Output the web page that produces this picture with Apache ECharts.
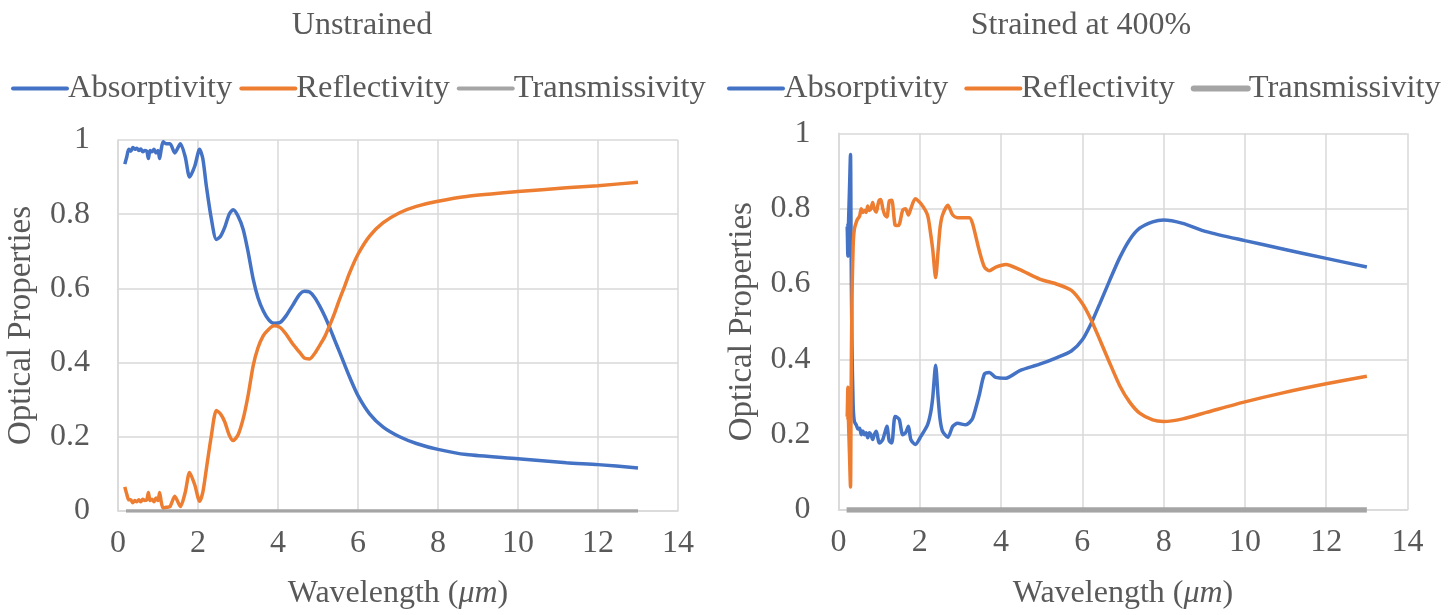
<!DOCTYPE html>
<html>
<head>
<meta charset="utf-8">
<script src="https://cdn.jsdelivr.net/npm/echarts@6/dist/echarts.min.js"></script>
<style>html,body{margin:0;padding:0;background:#fff;}#c{width:1452px;height:615px;}</style>
</head>
<body>
<div id="c"></div>
<script>
// ---------- Tick labels ----------
const xTicks = [0, 2, 4, 6, 8, 10, 12, 14];
const yTicks = [0, 0.2, 0.4, 0.6, 0.8, 1];
const seriesNames = ['Absorptivity', 'Reflectivity', 'Transmissivity'];
const chartTitles = ['Unstrained', 'Strained at 400%'];

// ---------- Unstrained ----------
const unWave = [0.17,0.22,0.27,0.32,0.37,0.42,0.47,0.52,0.57,0.62,0.67,0.72,0.76,0.8,0.85,0.9,0.95,1.0,1.04,1.08,1.13,1.2,1.3,1.42,1.56,1.68,1.79,1.92,2.04,2.12,2.21,2.33,2.46,2.56,2.67,2.78,2.88,3.0,3.13,3.25,3.38,3.5,3.63,3.77,3.9,4.05,4.2,4.37,4.54,4.66,4.79,4.92,5.04,5.17,5.29,5.42,5.54,5.67,5.79,6.0,6.29,6.63,7.04,7.46,8.0,8.71,10,11.21,12,13];
const unAbs = [0.935,0.955,0.975,0.97,0.98,0.975,0.978,0.972,0.976,0.968,0.972,0.97,0.95,0.972,0.968,0.975,0.965,0.972,0.95,0.975,0.995,0.99,0.99,0.965,0.99,0.955,0.90,0.93,0.975,0.95,0.875,0.79,0.732,0.74,0.765,0.80,0.812,0.795,0.759,0.70,0.625,0.575,0.54,0.515,0.506,0.508,0.526,0.555,0.584,0.592,0.59,0.575,0.553,0.525,0.495,0.46,0.428,0.393,0.361,0.311,0.262,0.226,0.2,0.182,0.166,0.152,0.141,0.13,0.125,0.116];
const unRef = [0.065,0.045,0.03,0.03,0.022,0.028,0.025,0.03,0.025,0.032,0.028,0.03,0.05,0.028,0.032,0.025,0.035,0.028,0.05,0.025,0.007,0.01,0.012,0.04,0.012,0.05,0.104,0.07,0.026,0.05,0.114,0.2,0.271,0.262,0.24,0.205,0.19,0.205,0.249,0.31,0.392,0.44,0.472,0.49,0.499,0.495,0.477,0.45,0.428,0.412,0.41,0.425,0.446,0.47,0.5,0.535,0.571,0.607,0.642,0.692,0.741,0.777,0.804,0.821,0.835,0.848,0.861,0.871,0.877,0.886];
const unTransWave = [0.2, 13];
const unTrans = [0, 0];

// ---------- Strained at 400% ----------
const stWave = [0.19,0.21,0.23,0.245,0.27,0.295,0.31,0.33,0.36,0.39,0.44,0.48,0.52,0.56,0.6,0.64,0.68,0.72,0.76,0.8,0.84,0.88,0.93,0.97,1.0,1.04,1.09,1.14,1.19,1.25,1.31,1.39,1.45,1.5,1.58,1.65,1.72,1.78,1.89,2.03,2.19,2.27,2.32,2.39,2.45,2.5,2.56,2.69,2.81,2.93,3.13,3.22,3.3,3.46,3.59,3.71,3.87,4.12,4.46,4.95,5.36,5.73,6.0,6.22,6.43,6.67,6.92,7.16,7.41,7.73,8.0,8.47,9.05,10,10.93,12,13];
const stAbs = [0.755,0.755,0.674,0.755,0.85,0.944,0.7,0.45,0.28,0.235,0.225,0.215,0.217,0.2,0.21,0.2,0.205,0.192,0.205,0.2,0.187,0.2,0.209,0.19,0.178,0.18,0.187,0.205,0.222,0.183,0.178,0.248,0.245,0.239,0.2,0.205,0.222,0.187,0.174,0.196,0.226,0.26,0.3,0.384,0.3,0.24,0.209,0.193,0.222,0.23,0.226,0.232,0.243,0.304,0.361,0.365,0.352,0.35,0.37,0.387,0.404,0.422,0.452,0.496,0.548,0.609,0.67,0.717,0.748,0.765,0.77,0.761,0.739,0.715,0.693,0.668,0.645];
const stRef = [0.245,0.245,0.326,0.24,0.15,0.061,0.3,0.55,0.7,0.745,0.765,0.774,0.78,0.8,0.79,0.795,0.79,0.807,0.795,0.8,0.816,0.8,0.791,0.81,0.822,0.824,0.8,0.783,0.778,0.82,0.822,0.757,0.755,0.759,0.796,0.8,0.783,0.8,0.826,0.813,0.783,0.731,0.69,0.617,0.687,0.75,0.783,0.809,0.783,0.776,0.776,0.776,0.76,0.69,0.645,0.635,0.645,0.652,0.638,0.613,0.6,0.583,0.548,0.504,0.452,0.391,0.33,0.287,0.257,0.239,0.235,0.242,0.259,0.287,0.311,0.335,0.355];
const stTransWave = [0.2, 13];
const stTrans = [0, 0];

// ---------- Build ----------
const FONT = '"Liberation Serif", "Times New Roman", serif';
const TXT = '#595959';
const GRIDC = '#d9d9d9';
const COLORS = ['#4472C4', '#ED7D31', '#A5A5A5'];
const FS = 32;
const pairs = (xs, ys) => xs.map((x, i) => [x, ys[i]]);

function xAx(gi, gap) {
  return {
    type: 'value', gridIndex: gi,
    min: xTicks[0], max: xTicks[xTicks.length - 1], interval: xTicks[1] - xTicks[0],
    name: 'Wavelength ({i|μm})', nameLocation: 'middle', nameGap: gap,
    nameTextStyle: { fontFamily: FONT, fontSize: FS, color: TXT,
      rich: { i: { fontFamily: FONT, fontSize: FS, color: TXT, fontStyle: 'italic' } } },
    axisLine: { show: true, lineStyle: { color: GRIDC, width: 1.5 } },
    axisTick: { show: false },
    axisLabel: { fontFamily: FONT, fontSize: FS, color: TXT, margin: 17 },
    splitLine: { show: true, lineStyle: { color: GRIDC, width: 1.5 } }
  };
}
function yAx(gi) {
  return {
    type: 'value', gridIndex: gi,
    min: yTicks[0], max: yTicks[yTicks.length - 1], interval: yTicks[1] - yTicks[0],
    name: 'Optical Properties', nameLocation: 'middle', nameGap: 80,
    nameTextStyle: { fontFamily: FONT, fontSize: 33, color: TXT },
    axisLine: { show: true, lineStyle: { color: GRIDC, width: 1.5 } },
    axisTick: { show: false },
    axisLabel: { fontFamily: FONT, fontSize: FS, color: TXT, margin: 28 },
    splitLine: { show: true, lineStyle: { color: GRIDC, width: 1.5 } }
  };
}
function line(name, gi, data, color, w) {
  return {
    type: 'line', name: name, xAxisIndex: gi, yAxisIndex: gi,
    data: data, showSymbol: false, symbol: 'none', smooth: 0.25,
    lineStyle: { color: color, width: w }, itemStyle: { color: color },
    emphasis: { disabled: true }, animation: false, z: name === 'Transmissivity' ? 3 : 2
  };
}
function legend(left, gap, tw) {
  return {
    left: left, top: 67, itemWidth: 54, itemHeight: 14, itemGap: gap,
    data: [
      { name: seriesNames[0], lineStyle: { width: 4, cap: 'round' } },
      { name: seriesNames[1], lineStyle: { width: 4, cap: 'round' } },
      { name: seriesNames[2], lineStyle: { width: tw, cap: 'round' } }
    ],
    itemStyle: { opacity: 0, borderWidth: 0 },
    textStyle: { fontFamily: FONT, fontSize: 32.5, color: TXT, padding: [0, 0, 0, -4] },
    selectedMode: false
  };
}

const option = {
  backgroundColor: '#fff',
  animation: false,
  title: [
    { text: chartTitles[0], left: 357, top: 5, textAlign: 'center',
      textStyle: { fontFamily: FONT, fontSize: FS, fontWeight: 'normal', color: TXT } },
    { text: chartTitles[1], left: 1076, top: 5, textAlign: 'center',
      textStyle: { fontFamily: FONT, fontSize: FS, fontWeight: 'normal', color: TXT } }
  ],
  legend: [legend(6, 7, 4), legend(722, 16, 6)],
  grid: [
    { left: 118, top: 140, width: 560, height: 373 },
    { left: 838.5, top: 133.3, width: 569, height: 383.4 }
  ],
  xAxis: [xAx(0, 67), xAx(1, 68)],
  yAxis: [yAx(0), yAx(1)],
  series: [
    line(seriesNames[0], 0, pairs(unWave, unAbs), COLORS[0], 3.5),
    line(seriesNames[1], 0, pairs(unWave, unRef), COLORS[1], 3.5),
    line(seriesNames[2], 0, pairs(unTransWave, unTrans), COLORS[2], 3.5),
    line(seriesNames[0], 1, pairs(stWave, stAbs), COLORS[0], 3.5),
    line(seriesNames[1], 1, pairs(stWave, stRef), COLORS[1], 3.5),
    line(seriesNames[2], 1, pairs(stTransWave, stTrans), COLORS[2], 5.5)
  ]
};
const chart = echarts.init(document.getElementById('c'), null, { renderer: 'canvas' });
chart.setOption(option);
</script>
</body>
</html>
